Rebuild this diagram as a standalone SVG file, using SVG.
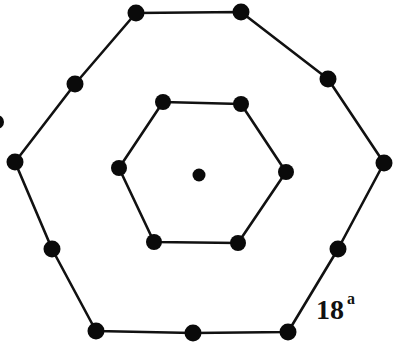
<svg xmlns="http://www.w3.org/2000/svg" width="395" height="345" viewBox="0 0 395 345">
<style>
.edge{fill:none;stroke:#111;stroke-width:2.6;stroke-linejoin:round}
.dot{fill:#0a0a0a}
.lbl{font-family:"Liberation Serif",serif;font-weight:bold;fill:#111}
</style>
<rect width="395" height="345" fill="#fff"/>
<g id="connectors">
<polygon class="edge" points="136,13 241,12 328,79 384,163 338,249 288,332 193,333 96,331 52,249 15,162 75,84"/>
<polygon class="edge" points="163,102 241,104 286,172 238,243 154,242 119,168"/>
</g>
<g id="outer">
<circle class="dot" cx="136" cy="13" r="8.5"/>
<circle class="dot" cx="241" cy="12" r="8.5"/>
<circle class="dot" cx="328" cy="79" r="8.5"/>
<circle class="dot" cx="384" cy="163" r="8.5"/>
<circle class="dot" cx="338" cy="249" r="8.5"/>
<circle class="dot" cx="288" cy="332" r="8.5"/>
<circle class="dot" cx="193" cy="333" r="8.5"/>
<circle class="dot" cx="96" cy="331" r="8.5"/>
<circle class="dot" cx="52" cy="249" r="8.5"/>
<circle class="dot" cx="15" cy="162" r="8.5"/>
<circle class="dot" cx="75" cy="84" r="8.5"/>
<circle class="dot" cx="-3" cy="122" r="7"/>
</g>
<g id="inner">
<circle class="dot" cx="163" cy="102" r="8"/>
<circle class="dot" cx="241" cy="104" r="8"/>
<circle class="dot" cx="286" cy="172" r="8"/>
<circle class="dot" cx="238" cy="243" r="8"/>
<circle class="dot" cx="154" cy="242" r="8"/>
<circle class="dot" cx="119" cy="168" r="8"/>
</g>
<g id="center">
<circle class="dot" cx="199" cy="175" r="6.5"/>
</g>
<g id="label">
<text class="lbl" x="316" y="319" font-size="28">18</text>
<text class="lbl" x="347" y="304" font-size="16">a</text>
</g>
</svg>
